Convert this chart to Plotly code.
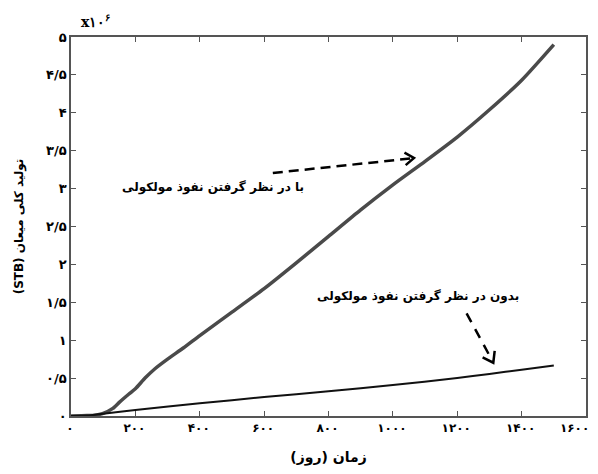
import plotly.graph_objects as go

# ---- data (days, cumulative condensate production in 1e6 STB) ----
days_with = [0, 50, 80, 100, 130, 150, 180, 200, 230, 260, 300, 350, 400, 500, 600,
             700, 800, 900, 1000, 1100, 1200, 1300, 1400, 1500]
prod_with = [0, 0.005, 0.015, 0.035, 0.10, 0.18, 0.29, 0.36, 0.50, 0.62, 0.75, 0.90, 1.06,
             1.37, 1.68, 2.02, 2.37, 2.72, 3.05, 3.36, 3.68, 4.04, 4.43, 4.90]

days_without = [0, 50, 100, 200, 400, 600, 800, 1000, 1200, 1300, 1400, 1500]
prod_without = [0, 0.005, 0.03, 0.08, 0.167, 0.25, 0.325, 0.41, 0.50, 0.555, 0.61, 0.665]

x_tickvals = [0, 200, 400, 600, 800, 1000, 1200, 1400, 1600]
x_ticktext = ["۰", "۲۰۰", "۴۰۰", "۶۰۰", "۸۰۰", "۱۰۰۰", "۱۲۰۰", "۱۴۰۰", "۱۶۰۰"]
y_tickvals = [0, 0.5, 1, 1.5, 2, 2.5, 3, 3.5, 4, 4.5, 5]
y_ticktext = ["۰", "۰/۵", "۱", "۱/۵", "۲", "۲/۵", "۳", "۳/۵", "۴", "۴/۵", "۵"]

label_with = "با در نظر گرفتن نفوذ مولکولی"
label_without = "بدون در نظر گرفتن نفوذ مولکولی"
x_title = "زمان (روز)"
y_title = "تولید کلی میعان (STB)"
FONT = "DejaVu Sans"
RLE, PDF = "\u202B", "\u202C"
NBSP = "\u00a0"

fig = go.Figure()
fig.add_trace(go.Scatter(x=days_with, y=prod_with, mode="lines",
                         line=dict(color="#4a4a4a", width=3.5, shape="spline", smoothing=0.6),
                         showlegend=False))
fig.add_trace(go.Scatter(x=days_without, y=prod_without, mode="lines",
                         line=dict(color="#111111", width=2, shape="spline", smoothing=0.6),
                         showlegend=False))

# dashed arrows
arrow_style = dict(color="black", width=2.5)
fig.add_shape(type="line", xref="x", yref="y", x0=627, y0=3.206, x1=1062, y1=3.40,
              line=dict(color="black", width=2.5, dash="10px,6px"))
fig.add_shape(type="path", xref="x", yref="y",
              path="M 1036,3.474 L 1065.6,3.404 L 1039.8,3.309", line=arrow_style)
fig.add_shape(type="line", xref="x", yref="y", x0=1229, y0=1.355, x1=1310, y1=0.72,
              line=dict(color="black", width=2.5, dash="10px,8px"))
fig.add_shape(type="path", xref="x", yref="y",
              path="M 1316.3,0.86 L 1312,0.703 L 1278.8,0.774", line=arrow_style)

fig.add_annotation(x=441, y=3.02, xref="x", yref="y",
                   text="<b>" + label_with + "</b>", showarrow=False,
                   font=dict(family=FONT, size=12, color="black"))
fig.add_annotation(x=1078, y=1.57, xref="x", yref="y",
                   text="<b>" + label_without + "</b>", showarrow=False,
                   font=dict(family=FONT, size=12, color="black"))
fig.add_annotation(x=0.0, y=1.0, xref="paper", yref="paper", xanchor="left", yanchor="bottom",
                   xshift=8, yshift=5, text="<b>x۱۰<sup>۶</sup></b>", showarrow=False,
                   font=dict(family="DejaVu Serif", size=14, color="black"))

axis_common = dict(showline=True, linecolor="#555555", linewidth=1.5, mirror="ticks",
                   ticks="inside", ticklen=5, tickcolor="#555555", showgrid=False,
                   zeroline=False, automargin=False)

x_labels = ["<b>%s</b>" % t for t in x_ticktext]
x_labels[-1] = "<b>%s</b>" % (x_ticktext[-1] + NBSP * 5)  # keep last label inside the page

fig.update_xaxes(range=[0, 1600], tickvals=x_tickvals, ticktext=x_labels,
                 ticklabeloverflow="allow", ticklabelshift=-1,
                 tickfont=dict(family=FONT, size=12, color="black"),
                 title=dict(text="<b>" + x_title + "</b>", font=dict(family=FONT, size=14, color="black"),
                            standoff=20), **axis_common)
fig.update_yaxes(range=[0, 5], tickvals=y_tickvals, ticktext=["<b>%s</b>" % t for t in y_ticktext],
                 tickfont=dict(family=FONT, size=13, color="black"),
                 title=dict(text="<b>" + RLE + y_title + PDF + "</b>",
                            font=dict(family=FONT, size=12, color="black"), standoff=20),
                 **axis_common)

# page body has an 8px margin; size the figure so the page does not overflow the window
fig.update_layout(width=582, height=458, margin=dict(l=63, r=4, t=29, b=50),
                  plot_bgcolor="white", paper_bgcolor="white")

fig.write_html("out.html")
